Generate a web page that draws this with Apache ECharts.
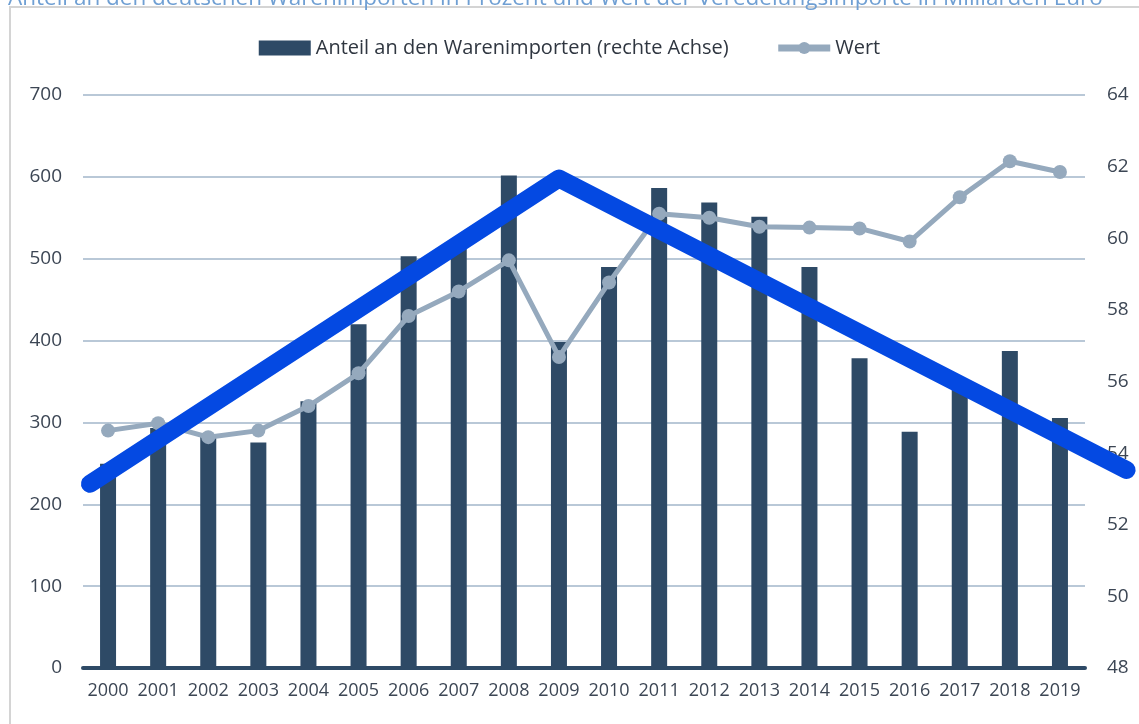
<!DOCTYPE html>
<html>
<head>
<meta charset="utf-8">
<script src="https://cdn.jsdelivr.net/npm/echarts@6/dist/echarts.min.js"></script>
<style>
  html, body { margin: 0; padding: 0; background: #fff; }
  #chart { width: 1139px; height: 724px; }
</style>
</head>
<body>
<div id="chart"></div>
<script>
  var years = ['2000', '2001', '2002', '2003', '2004', '2005', '2006', '2007', '2008', '2009',
    '2010', '2011', '2012', '2013', '2014', '2015', '2016', '2017', '2018', '2019']
  // Anteil an den Warenimporten in Prozent (rechte Achse)
  var anteil = [53.7, 54.7, 54.45, 54.3, 55.45, 57.6, 59.5, 59.7, 61.75, 57.1,
    59.2, 61.4, 61.0, 60.6, 59.2, 56.65, 54.6, 55.9, 56.85, 54.98]
  // Wert in Milliarden Euro (linke Achse)
  var wert = [290, 299, 282, 290, 320, 360, 430, 460, 498, 380,
    471, 555, 550, 539, 538, 537, 521, 575, 619, 606]
  // blaue Trendlinie: [Position auf der Jahresachse, Wert]
  var trend = [[-0.36, 225], [9, 598], [20.33, 242]]

  var chart = echarts.init(document.getElementById('chart'))
  var labelColor = '#3c4654'
  var font = 'Open Sans'

  // zweites Raster fuer die Trendlinie, gleicher Massstab, reicht bis zum rechten Rand
  var plotLeft = 83, plotRight = 54
  var bandWidth = (1139 - plotLeft - plotRight) / years.length
  var trendMax = -0.5 + (1139 - plotLeft) / bandWidth

  chart.setOption({
    animation: false,
    title: {
      text: 'Anteil an den deutschen Warenimporten in Prozent und Wert der Veredelungsimporte in Milliarden Euro',
      left: 3,
      top: -18,
      textStyle: { color: '#6f9fd3', fontSize: 22.5, fontWeight: 'normal', fontFamily: font }
    },
    graphic: [{
      type: 'rect',
      shape: { x: 10, y: 7, width: 1200, height: 800 },
      style: { fill: 'none', stroke: '#d4d4d4', lineWidth: 2 },
      silent: true
    }],
    legend: {
      top: 33,
      left: 'center',
      data: [
        { name: 'Anteil an den Warenimporten (rechte Achse)', icon: 'rect' },
        { name: 'Wert', lineStyle: { width: 7 } }
      ],
      itemWidth: 52,
      itemHeight: 15,
      itemGap: 46,
      textStyle: { color: '#2f3640', fontSize: 20, fontFamily: font }
    },
    grid: [
      { left: plotLeft, right: plotRight, top: 95, bottom: 56 },
      { left: plotLeft, right: 0, top: 95, bottom: 56 }
    ],
    xAxis: [{
      type: 'category',
      gridIndex: 0,
      data: years,
      axisLine: { lineStyle: { color: '#2e4a66', width: 4 } },
      axisTick: { show: false },
      axisLabel: { color: labelColor, fontSize: 18, fontFamily: font, margin: 14, interval: 0 }
    }, {
      type: 'value',
      gridIndex: 1,
      min: -0.5,
      max: trendMax,
      show: false
    }],
    yAxis: [{
      type: 'value',
      gridIndex: 0,
      min: 0,
      max: 700,
      interval: 100,
      axisLine: { show: false },
      axisTick: { show: false },
      axisLabel: { color: labelColor, fontSize: 19, fontFamily: font, margin: 21 },
      splitLine: { lineStyle: { color: '#b9c8d7', width: 2 } }
    }, {
      type: 'value',
      gridIndex: 0,
      min: 48,
      max: 64,
      interval: 2,
      position: 'right',
      axisLine: { show: false },
      axisTick: { show: false },
      axisLabel: { color: labelColor, fontSize: 19, fontFamily: font, margin: 22 },
      splitLine: { show: false }
    }, {
      type: 'value',
      gridIndex: 1,
      min: 0,
      max: 700,
      show: false
    }],
    series: [{
      name: 'Anteil an den Warenimporten (rechte Achse)',
      type: 'bar',
      xAxisIndex: 0,
      yAxisIndex: 1,
      barWidth: 16,
      itemStyle: { color: '#2e4a66' },
      data: anteil,
      z: 2
    }, {
      name: 'Wert',
      type: 'line',
      xAxisIndex: 0,
      yAxisIndex: 0,
      symbol: 'circle',
      symbolSize: 14,
      lineStyle: { color: '#95a9bd', width: 5 },
      itemStyle: { color: '#95a9bd' },
      data: wert,
      z: 3
    }, {
      name: 'Trend',
      type: 'line',
      xAxisIndex: 1,
      yAxisIndex: 2,
      symbol: 'none',
      clip: false,
      lineStyle: { color: '#0449e2', width: 18, cap: 'round', join: 'round' },
      data: trend,
      z: 5
    }]
  })
</script>
</body>
</html>
